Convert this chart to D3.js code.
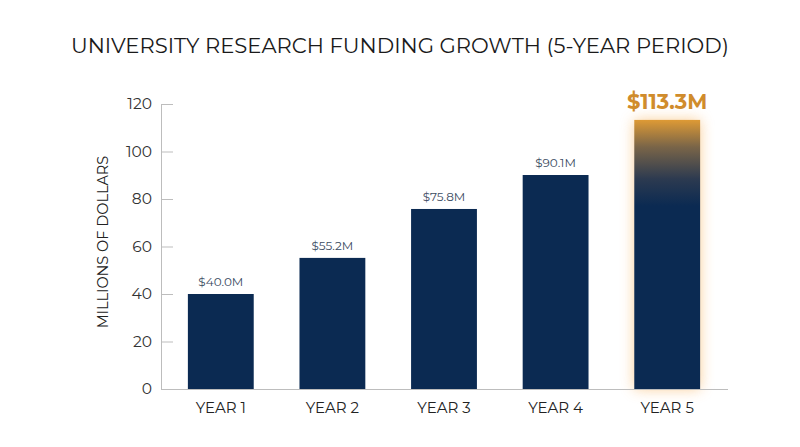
<!DOCTYPE html>
<html>
<head>
<meta charset="utf-8">
<script src="https://cdn.jsdelivr.net/npm/d3@7"></script>
<style>
  body { margin: 0; background: #fff; }
  svg { display: block; font-family: Montserrat, "Open Sans", sans-serif; }
</style>
</head>
<body>
<script>
var w = 800;
var h = 447;

var years = ["YEAR 1", "YEAR 2", "YEAR 3", "YEAR 4", "YEAR 5"];
var funding = [40.0, 55.2, 75.8, 90.1, 113.3];
var valueLabels = ["$40.0M", "$55.2M", "$75.8M", "$90.1M", "$113.3M"];
var yTicks = [0, 20, 40, 60, 80, 100, 120];

var navy = "#0b2a52";
var gold = "#d08c2c";

var svg = d3.select("body").append("svg")
    .attr("width", w)
    .attr("height", h);

var defs = svg.append("defs");

var grad = defs.append("linearGradient")
    .attr("id", "hiGrad")
    .attr("x1", 0).attr("y1", 0)
    .attr("x2", 0).attr("y2", 1);
grad.append("stop").attr("offset", "0%").attr("stop-color", "#de9a35");
grad.append("stop").attr("offset", "10%").attr("stop-color", "#7a6548");
grad.append("stop").attr("offset", "22%").attr("stop-color", "#2c3a50");
grad.append("stop").attr("offset", "32%").attr("stop-color", navy);
grad.append("stop").attr("offset", "100%").attr("stop-color", navy);

var glow = defs.append("filter")
    .attr("id", "glow")
    .attr("x", "-50%").attr("y", "-20%")
    .attr("width", "200%").attr("height", "140%");
glow.append("feGaussianBlur").attr("stdDeviation", 7);

var xScale = d3.scaleBand()
    .domain(years)
    .range([165, 723])
    .paddingInner(0.41)
    .paddingOuter(0.205);

var yScale = d3.scaleLinear()
    .domain([0, 120])
    .range([389, 104]);

// title
svg.append("text")
    .attr("x", w / 2)
    .attr("y", 53)
    .attr("text-anchor", "middle")
    .attr("font-size", "21px")
    .attr("fill", "#1a1a1a")
    .attr("textLength", 658)
    .attr("lengthAdjust", "spacingAndGlyphs")
    .text("UNIVERSITY RESEARCH FUNDING GROWTH (5-YEAR PERIOD)");

// y axis
var yAxis = d3.axisLeft(yScale)
    .tickValues(yTicks)
    .tickSizeInner(-12)
    .tickSizeOuter(0)
    .tickPadding(9);

var gy = svg.append("g")
    .attr("transform", "translate(161,0)")
    .call(yAxis);
gy.select(".domain").attr("stroke", "#bdbdbd");
gy.selectAll(".tick line").attr("stroke", "#bdbdbd");
gy.selectAll(".tick text")
    .attr("font-size", "15.5px")
    .attr("fill", "#333")
    .attr("font-family", "Montserrat, 'Open Sans', sans-serif");

svg.append("text")
    .attr("transform", "translate(108,242) rotate(-90)")
    .attr("text-anchor", "middle")
    .attr("font-size", "14.5px")
    .attr("fill", "#222")
    .text("MILLIONS OF DOLLARS");

// glow behind highlighted bar
var last = funding.length - 1;
svg.append("rect")
    .attr("x", xScale(years[last]))
    .attr("y", yScale(funding[last]))
    .attr("width", xScale.bandwidth())
    .attr("height", yScale(0) - yScale(funding[last]))
    .attr("fill", "#f7ad52")
    .attr("opacity", 0.6)
    .attr("filter", "url(#glow)");

// bars
svg.selectAll("rect.bar")
    .data(funding)
    .enter()
    .append("rect")
    .attr("class", "bar")
    .attr("x", function(d, i) { return xScale(years[i]); })
    .attr("y", function(d) { return yScale(d); })
    .attr("width", xScale.bandwidth())
    .attr("height", function(d) { return yScale(0) - yScale(d); })
    .attr("fill", function(d, i) { return i === last ? "url(#hiGrad)" : navy; });

// value labels
svg.selectAll("text.val")
    .data(funding)
    .enter()
    .append("text")
    .attr("class", "val")
    .attr("x", function(d, i) { return xScale(years[i]) + xScale.bandwidth() / 2; })
    .attr("y", function(d, i) { return yScale(d) - (i === last ? 11 : 8); })
    .attr("text-anchor", "middle")
    .attr("font-size", function(d, i) { return i === last ? "21px" : "12px"; })
    .attr("font-weight", function(d, i) { return i === last ? "bold" : "normal"; })
    .attr("fill", function(d, i) { return i === last ? gold : "#3b4b5f"; })
    .text(function(d, i) { return valueLabels[i]; });

// x axis
var xAxis = d3.axisBottom(xScale)
    .tickSize(0)
    .tickPadding(13);

var gx = svg.append("g")
    .attr("transform", "translate(0,389)")
    .call(xAxis);
gx.select(".domain").attr("d", "M161,0.5H728").attr("stroke", "#bdbdbd");
gx.selectAll(".tick text")
    .attr("font-size", "15px")
    .attr("fill", "#222")
    .attr("font-family", "Montserrat, 'Open Sans', sans-serif");
</script>
</body>
</html>
